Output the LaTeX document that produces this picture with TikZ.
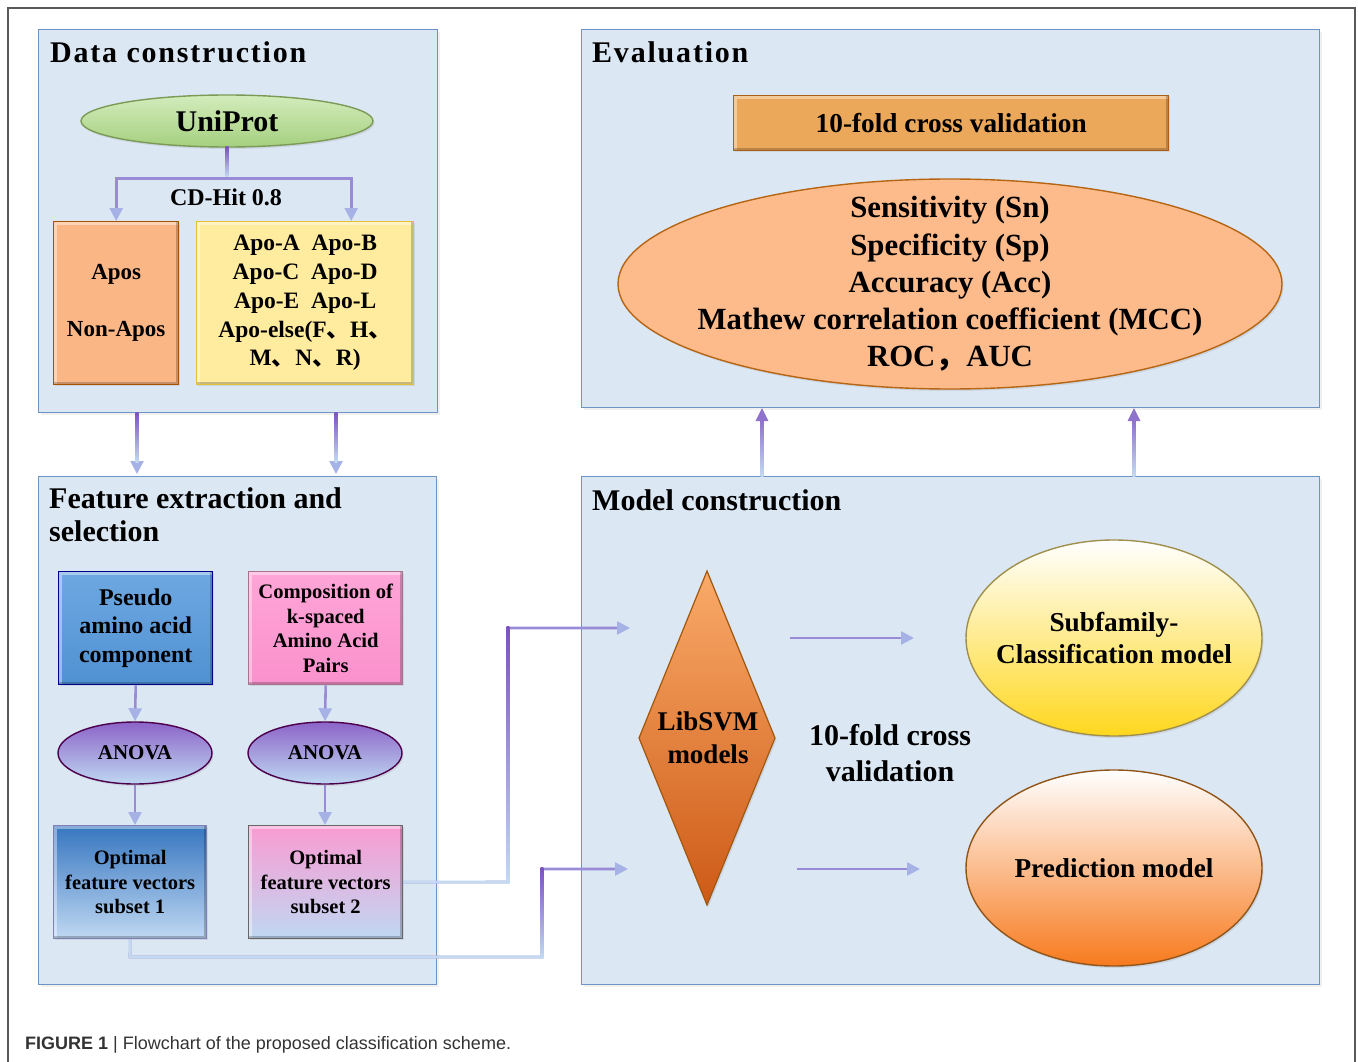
\documentclass[tikz,border=0pt]{standalone}
\usepackage{fontspec}
\setmainfont{Liberation Serif}
\newfontfamily\cjk{Noto Sans CJK SC}
\newfontfamily\capfont{Liberation Sans}
\newfontfamily\spaced{Liberation Serif}[LetterSpace=6]
\usetikzlibrary{arrows.meta,shadows,calc,shapes.geometric}
\newcommand\fsz[2]{\fontsize{#1}{#2}\selectfont}
\definecolor{panelfill}{HTML}{DCE7F4}
\definecolor{panelline}{HTML}{6F93C2}
\definecolor{conn}{HTML}{9A8BD6}
\definecolor{tipc}{HTML}{A6B2E6}
\definecolor{upc}{HTML}{8E72CC}
\definecolor{lblue}{HTML}{BFD8F2}
\definecolor{linelb}{HTML}{C3DAF1}
\definecolor{linepu}{HTML}{7B52C0}
\definecolor{unitop}{HTML}{D3ECBC}
\definecolor{unibot}{HTML}{A5D07F}
\definecolor{uniedge}{HTML}{7A9A55}
% vertical gradient line segment: x, ytop, ybottom, top colour, bottom colour
\newcommand\gradv[5]{\shade[top color=#4,bottom color=#5] (#1-1.3,#2) rectangle (#1+1.3,#3);}
\begin{document}
\begin{tikzpicture}[x=1pt,y=-1pt,font=\bfseries,
  panel/.style={fill=panelfill,draw=panelline,line width=1.3pt,anchor=north west,inner sep=0pt,
    drop shadow={opacity=0.12,shadow xshift=2pt,shadow yshift=-2pt}},
  title/.style={font=\bfseries\fsz{30}{33},anchor=base west,inner sep=0pt,align=left},
  boxn/.style={draw=#1,line width=1.4pt,inner sep=0pt,align=center,anchor=north west,
    drop shadow={opacity=0.18,shadow xshift=1.5pt,shadow yshift=-1.5pt},
    path picture={
      \draw[white,opacity=0.4,line width=6pt] (path picture bounding box.south west) --
        (path picture bounding box.north west) -- (path picture bounding box.north east);
      \draw[black,opacity=0.22,line width=6pt] (path picture bounding box.north east) --
        (path picture bounding box.south east) -- (path picture bounding box.south west);}},
  ell/.style={ellipse,draw=#1,line width=1.4pt,inner sep=0pt,
    drop shadow={opacity=0.18,shadow xshift=1.5pt,shadow yshift=-2pt}},
  txt/.style={inner sep=0pt,align=center},
  conline/.style={draw=conn,line width=2.6pt},
  arr/.style={conline,-{Triangle[length=13pt,width=13pt,color=tipc]}},
  lbline/.style={draw=linelb,line width=2.6pt},
  uparr/.style={draw=upc,line width=2.6pt,-{Triangle[length=13pt,width=12pt,color=upc]}},
]
\useasboundingbox (0,0) rectangle (1358,1062);
% outer frame
\draw[line width=1.3pt,draw=black!65] (8,1062) -- (8,8) -- (1355,8) -- (1355,1062);

% panels
\node[panel,minimum width=399,minimum height=383] (pdc) at (38,29) {};
\node[panel,minimum width=398,minimum height=508] (pfe) at (38,476) {};
\node[panel,minimum width=738,minimum height=378] (pev) at (581,29) {};
\node[panel,minimum width=738,minimum height=508] (pmc) at (581,476) {};

% titles
\node[title,font=\spaced\bfseries\fsz{30}{33}] (tdc) at (50,63) {Data construction};
\node[title,font=\spaced\bfseries\fsz{30}{33}] (tev) at (592,63) {Evaluation};
\node[title] (tfe) at (49,541) {Feature extraction and\\selection};
\node[title] (tmc) at (592,510) {Model construction};

% ---------- Data construction
\node[ell=uniedge,top color=unitop,bottom color=unibot,
  minimum width=292,minimum height=52] (uni) at (227,121) {};
\node[txt,font=\bfseries\fsz{30}{33}] (unit) at (uni) {UniProt};
\node[boxn=black!35!orange,fill={rgb,255:red,251;green,182;blue,134},minimum width=125,minimum height=163,
  font=\bfseries\fsz{23}{28}] (apos) at (53,221) {Apos\\[29pt]Non-Apos};
\node[boxn=yellow!50!brown,fill={rgb,255:red,255;green,236;blue,158},minimum width=217,minimum height=163,
  font=\bfseries\fsz{23.5}{28.75}] (apo) at (196,221)
  {Apo-A\enspace Apo-B\\Apo-C\enspace Apo-D\\Apo-E\enspace Apo-L\\Apo-else(F{\cjk 、}H{\cjk 、}\\M{\cjk 、}N{\cjk 、}R)};
\draw[conline] (uni.south) -- ++(0,31) coordinate (split);
\draw[arr] (split) -| (apos.north);
\draw[arr] (split) -| ($(apo.north)+(46,0)$);
\gradv{227}{147}{177}{linepu}{linelb}
\node[txt,font=\bfseries\fsz{24}{26}] (cdhit) at (226,197) {CD-Hit 0.8};

% ---------- Feature extraction
\node[boxn=blue!55!black,top color={rgb,255:red,110;green,168;blue,226},bottom color={rgb,255:red,80;green,145;blue,210},
  minimum width=154,minimum height=113,font=\bfseries\fsz{24}{28.5}] (pse) at (58,571) {Pseudo\\amino acid\\component};
\node[boxn=magenta!45!black!70,top color={rgb,255:red,255;green,165;blue,215},bottom color={rgb,255:red,250;green,145;blue,205},
  minimum width=154,minimum height=113,font=\bfseries\fsz{20.6}{24.7}] (cmp) at (248,571) {Composition of\\k-spaced\\Amino Acid\\Pairs};
\node[ell=violet!60!black,top color={rgb,255:red,140;green,100;blue,200},bottom color=lblue,
  minimum width=154,minimum height=62] (an1) at (135,753) {};
\node[txt,font=\bfseries\fsz{21}{22}] at (an1) {ANOVA};
\node[ell=violet!60!black,top color={rgb,255:red,140;green,100;blue,200},bottom color=lblue,
  minimum width=154,minimum height=62] (an2) at (325,753) {};
\node[txt,font=\bfseries\fsz{21}{22}] at (an2) {ANOVA};
\node[boxn=black!60!blue!50,top color={rgb,255:red,55;green,118;blue,192},bottom color=lblue,
  minimum width=153,minimum height=113,font=\bfseries\fsz{20.5}{24.5}] (op1) at (53,825) {Optimal\\feature vectors\\subset 1};
\node[boxn=black!60,top color={rgb,255:red,250;green,155;blue,210},bottom color=lblue,
  minimum width=154,minimum height=113,font=\bfseries\fsz{20.5}{24.5}] (op2) at (248,825) {Optimal\\feature vectors\\subset 2};
\draw[arr] (pse.south) -- (an1.north);
\draw[arr] (cmp.south) -- (an2.north);
\draw[arr] (an1.south) -- (an1.south |- op1.north);
\draw[arr] (an2.south) -- (an2.south |- op2.north);

% data -> feature
\coordinate (d1) at (137,412); \coordinate (f1) at (137,474);
\coordinate (d2) at (336,412); \coordinate (f2) at (336,474);
\draw[arr] (d1) -- (f1);
\draw[arr] (d2) -- (f2);
\gradv{137}{412}{462}{linepu}{linelb}
\gradv{336}{412}{462}{linepu}{linelb}

% ---------- Model construction
\path[top color={rgb,255:red,250;green,170;blue,105},bottom color={rgb,255:red,205;green,90;blue,22},
  draw=black!40!orange!80!brown,line width=1.2pt,drop shadow={opacity=0.18,shadow xshift=1.5pt,shadow yshift=-2pt}]
  (707,571) -- (775,738) -- (707,905) -- (639,738) -- cycle;
\node[txt,font=\bfseries\fsz{27}{33}] (svm) at (708,738) {LibSVM\\models};
\node[txt,font=\bfseries\fsz{30}{36}] (cv) at (890,753) {10-fold cross\\validation};
\node[ell=black!50!yellow!70!brown,top color=white,bottom color={rgb,255:red,255;green,215;blue,30},
  minimum width=296,minimum height=196] (sub) at (1114,638) {};
\node[txt,font=\bfseries\fsz{27.3}{32}] at (sub) {Subfamily-\\Classification model};
\node[ell=black!55!orange!60!brown,top color=white,bottom color={rgb,255:red,247;green,122;blue,30},
  minimum width=296,minimum height=196] (pred) at (1114,868) {};
\node[txt,font=\bfseries\fsz{27.3}{32}] at (pred) {Prediction model};
\coordinate (m1a) at (790,638); \coordinate (m1b) at (914,638);
\coordinate (m2a) at (797,869); \coordinate (m2b) at (920,869);
\draw[arr] (m1a) -- (m1b);
\draw[arr] (m2a) -- (m2b);

% feature -> model connectors
\coordinate (in1) at (630,628);
\coordinate (in2) at (628,869);
\draw[arr] (op2.east) -- (508,882) -- (508,628) -- (in1);
\draw[lbline] (op2.east) -- (506.7,882);
\gradv{508}{626.7}{883.3}{linepu}{linelb}
\draw[arr] (op1.south) -- (130,957) -- (542,957) -- (542,869) -- (in2);
\draw[lbline,line join=miter] (op1.south) -- (130,957) -- (540.7,957);
\gradv{542}{867.7}{958.3}{linepu}{linelb}

% ---------- Evaluation
\node[boxn=black!35!orange!70!brown,fill={rgb,255:red,235;green,168;blue,90},minimum width=435,minimum height=55,
  font=\bfseries\fsz{27.3}{30}] (tenf) at (733,95) {10-fold cross validation};
\node[ell=black!30!orange!70!brown,fill={rgb,255:red,253;green,187;blue,140},minimum width=664,minimum height=210] (met) at (950,284) {};
\node[txt,font=\bfseries\fsz{30.8}{37.2}] (mett) at (met)
  {Sensitivity (Sn)\\Specificity (Sp)\\Accuracy (Acc)\\Mathew correlation coefficient (MCC)\\ROC{\cjk ，}AUC};

% model -> evaluation
\coordinate (u1a) at (762,476); \coordinate (u1b) at (762,408);
\coordinate (u2a) at (1134,476); \coordinate (u2b) at (1134,408);
\draw[uparr] (u1a) -- (u1b);
\draw[uparr] (u2a) -- (u2b);
\gradv{762}{420}{476}{upc}{linelb}
\gradv{1134}{420}{476}{upc}{linelb}

% caption
\node[anchor=base west,inner sep=0pt,font=\capfont\mdseries\fsz{18}{20},text=black!80] (cap) at (25,1049)
  {\textbf{FIGURE 1} | Flowchart of the proposed classification scheme.};
\end{tikzpicture}
\end{document}
